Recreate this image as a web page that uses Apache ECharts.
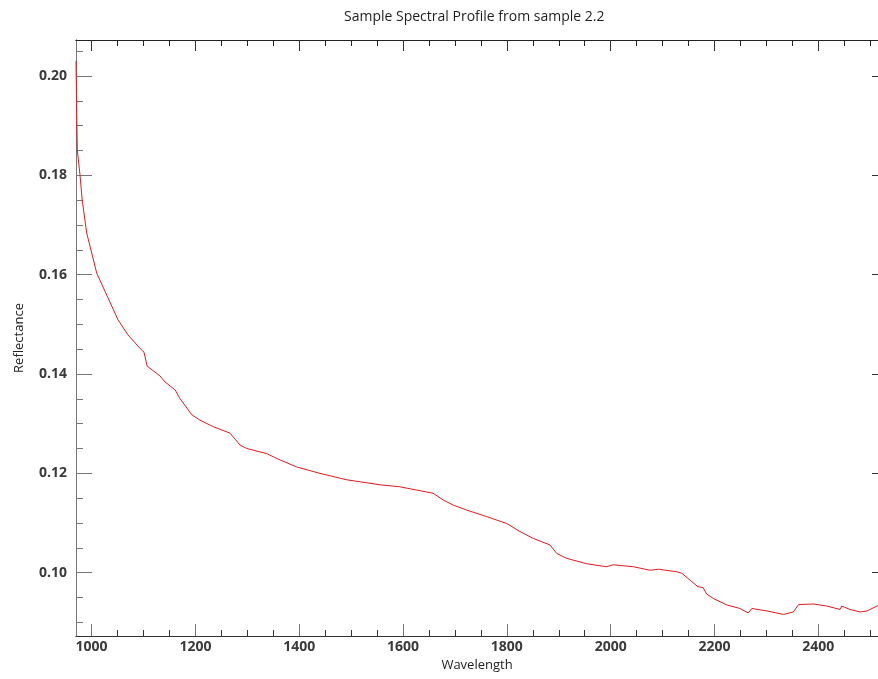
<!DOCTYPE html>
<html>
<head>
<meta charset="utf-8">
<title>Sample Spectral Profile</title>
<script src="https://cdn.jsdelivr.net/npm/echarts@6/dist/echarts.min.js"></script>
<style>
  html, body { margin: 0; padding: 0; background: #fff; }
  #chart { width: 878px; height: 679px; }
</style>
</head>
<body>
<div id="chart"></div>
<script>
// wavelength (nm) and reflectance
var wavelength = [970, 971, 972.5, 977.7, 982, 990.6, 1010, 1033.6, 1051, 1070,
    1093, 1101, 1107, 1132, 1141.5, 1161, 1170, 1193, 1209, 1234.5,
    1266.7, 1286, 1299, 1337, 1363, 1395, 1440, 1492, 1556, 1594,
    1633, 1658, 1678, 1697, 1723, 1761, 1800, 1825, 1851, 1883,
    1896, 1915, 1954, 1992, 2005, 2044, 2076, 2092, 2127, 2137,
    2153, 2168, 2178, 2185, 2198, 2224, 2249, 2265, 2272, 2301,
    2333, 2352, 2362, 2391, 2416, 2442, 2445, 2461, 2481, 2494,
    2513, 2530];
var reflectance = [0.2030, 0.1952, 0.1851, 0.1801, 0.1750, 0.1684, 0.1603, 0.1549, 0.1509, 0.1479,
    0.1452, 0.1444, 0.1416, 0.1396, 0.1384, 0.1368, 0.1351, 0.1318, 0.1307, 0.1294,
    0.1281, 0.1257, 0.1250, 0.1240, 0.1227, 0.1213, 0.1200, 0.1187, 0.1177, 0.1173,
    0.1165, 0.1160, 0.1146, 0.1136, 0.1126, 0.1113, 0.1099, 0.1083, 0.1069, 0.1056,
    0.1039, 0.1029, 0.1018, 0.1012, 0.1016, 0.1012, 0.1005, 0.1007, 0.1002, 0.0999,
    0.0985, 0.0972, 0.0970, 0.0957, 0.0948, 0.0935, 0.0928, 0.0919, 0.0928, 0.0923,
    0.0916, 0.0921, 0.0936, 0.0937, 0.0933, 0.0926, 0.0933, 0.0926, 0.0921, 0.0923,
    0.0933, 0.0942];

// tick labels
var xTicks = [1000, 1200, 1400, 1600, 1800, 2000, 2200, 2400];
var yTicks = [0.10, 0.12, 0.14, 0.16, 0.18, 0.20];

// the plot in the picture is cut at the right edge, so the x range stops there too
var xMin = 970, xMax = 2515;
var yMin = 0.08726, yMax = 0.20725;

// minor ticks between the labelled ones
var xMinor = [];
for (var w = 1000; w <= 2500; w += 50) {
    if (w % 200 !== 0) xMinor.push(w);
}
var yMinor = [];
for (var k = 18; k <= 41; k++) {
    if (k % 4 !== 0) yMinor.push(k * 0.005);
}

var points = wavelength.map(function (w, i) { return [w, reflectance[i]]; });

var labelFont = {
    fontFamily: 'Open Sans',
    fontWeight: 'bold',
    fontSize: 14,
    color: '#3a3a3a'
};

// one axis that only draws ticks (and maybe the line / labels)
function makeAxis(dim, position, ticks, len, color, extra) {
    var ax = {
        type: 'value',
        position: position,
        min: dim === 'x' ? xMin : yMin,
        max: dim === 'x' ? xMax : yMax,
        splitLine: { show: false },
        axisLine: { show: true, onZero: false, lineStyle: { color: color, width: 1 } },
        axisTick: {
            show: true,
            inside: true,
            length: len,
            customValues: ticks,
            lineStyle: { color: color, width: 1 }
        },
        axisLabel: { show: false }
    };
    for (var key in extra) ax[key] = extra[key];
    return ax;
}

var option = {
    backgroundColor: '#fff',
    animation: false,
    title: {
        text: 'Sample Spectral Profile from sample 2.2',
        left: 339,
        top: 5,
        textStyle: {
            fontFamily: 'Open Sans',
            fontWeight: 'normal',
            fontSize: 14,
            color: '#1e1e1e'
        }
    },
    grid: {
        left: 76,
        top: 40,
        right: 0,
        bottom: 43
    },
    xAxis: [
        makeAxis('x', 'bottom', xTicks, 12, '#777', {
            name: 'Wavelength',
            nameLocation: 'middle',
            nameGap: 20,
            nameTextStyle: { fontFamily: 'Open Sans', fontSize: 13, color: '#222' },
            axisLabel: {
                show: true,
                customValues: xTicks,
                margin: 4,
                formatter: function (v) { return String(v); },
                fontFamily: labelFont.fontFamily,
                fontWeight: labelFont.fontWeight,
                fontSize: labelFont.fontSize,
                color: labelFont.color
            }
        }),
        makeAxis('x', 'bottom', xMinor, 6, '#333', {}),
        makeAxis('x', 'top', xTicks, 11, '#333', {}),
        makeAxis('x', 'top', xMinor, 6, '#222', {})
    ],
    yAxis: [
        makeAxis('y', 'left', yTicks, 16, '#777', {
            name: 'Reflectance',
            nameLocation: 'middle',
            nameGap: 50,
            nameTextStyle: { fontFamily: 'Open Sans', fontSize: 13, color: '#222' },
            axisLabel: {
                show: true,
                customValues: yTicks,
                margin: 9,
                formatter: function (v) { return v.toFixed(2); },
                fontFamily: labelFont.fontFamily,
                fontWeight: labelFont.fontWeight,
                fontSize: labelFont.fontSize,
                color: labelFont.color
            }
        }),
        makeAxis('y', 'left', yMinor, 7, '#777', {}),
        // right side: only the stubs of the major ticks show in the picture
        makeAxis('y', 'right', yTicks, 6, '#333', { axisLine: { show: false, onZero: false } })
    ],
    series: [
        {
            name: 'sample 2.2',
            type: 'line',
            xAxisIndex: 0,
            yAxisIndex: 0,
            data: points,
            showSymbol: false,
            smooth: false,
            lineStyle: { color: '#e3191f', width: 1 }
        }
    ]
};

var chart = echarts.init(document.getElementById('chart'), null, { renderer: 'canvas' });
chart.setOption(option);
</script>
</body>
</html>
